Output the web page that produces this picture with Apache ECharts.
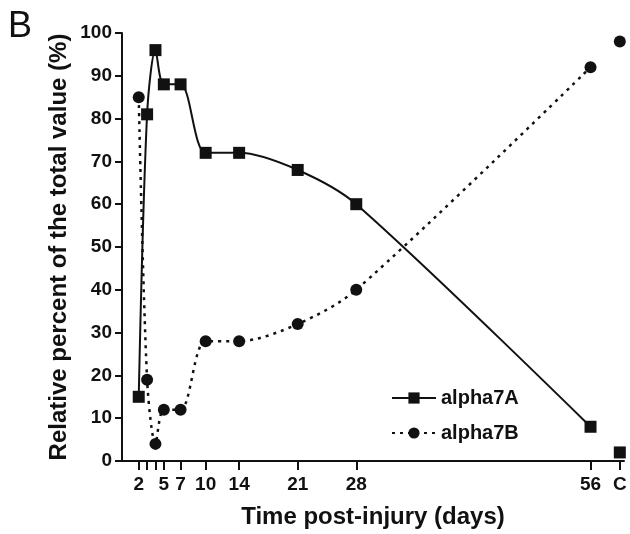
<!DOCTYPE html>
<html>
<head>
<meta charset="utf-8">
<script src="https://cdn.jsdelivr.net/npm/echarts@6/dist/echarts.min.js"></script>
<style>
html,body{margin:0;padding:0;background:#fff;}
#chart{width:630px;height:534px;}
</style>
</head>
<body>
<div id="chart"></div>
<script>
// Data
var days = [2, 3, 4, 5, 7, 10, 14, 21, 28, 56];
var alpha7A = [15, 81, 96, 88, 88, 72, 72, 68, 60, 8];
var alpha7B = [85, 19, 4, 12, 12, 28, 28, 32, 40, 92];
var controlX = 59.5;
var alpha7A_C = 2;
var alpha7B_C = 98;
var xTickValues = [2, 3, 4, 5, 7, 10, 14, 21, 28, 56, 59.5];
var xLabelValues = [2, 5, 7, 10, 14, 21, 28, 56, 59.5];
var yTicks = [0, 10, 20, 30, 40, 50, 60, 70, 80, 90, 100];

var FONT = '"Liberation Sans", Arial, sans-serif';
function pairs(xs, ys){ return xs.map(function(x,i){ return [x, ys[i]]; }); }

var chart = echarts.init(document.getElementById('chart'), null, {renderer:'canvas'});
chart.setOption({
  animation: false,
  backgroundColor: '#fff',
  grid: {left: 122, right: 6, top: 33, bottom: 72, containLabel: false},
  graphic: [{
    type: 'text', left: 8, top: 9,
    style: {text: 'B', fontSize: 36, fontFamily: FONT, fill: '#111'}
  }],
  legend: {
    data: ['alpha7A', 'alpha7B'],
    orient: 'vertical',
    left: 386, top: 383,
    itemWidth: 44, itemHeight: 14, itemGap: 15,
    textStyle: {fontSize: 20, fontWeight: 'bold', fontFamily: FONT, color: '#111'}
  },
  xAxis: {
    type: 'value', min: 0, max: 60,
    name: 'Time post-injury (days)', nameLocation: 'middle', nameGap: 44,
    nameMoveOverlap: false,
    nameTextStyle: {fontSize: 24, fontWeight: 'bold', fontFamily: FONT, color: '#111', verticalAlign: 'top'},
    axisLine: {show: true, lineStyle: {color: '#111', width: 2}},
    axisTick: {show: true, length: 9, lineStyle: {color: '#111', width: 2}, customValues: xTickValues},
    axisLabel: {margin: 14, fontSize: 19, fontWeight: 'bold', fontFamily: FONT, color: '#111',
      customValues: xLabelValues,
      formatter: function(v){ return v === controlX ? 'C' : String(v); }},
    splitLine: {show: false}
  },
  yAxis: {
    type: 'value', min: 0, max: 100, interval: 10,
    name: 'Relative percent of the total value (%)', nameLocation: 'middle', nameGap: 51,
    nameMoveOverlap: false,
    nameTextStyle: {fontSize: 24, fontWeight: 'bold', fontFamily: FONT, color: '#111'},
    axisLine: {show: true, lineStyle: {color: '#111', width: 2}},
    axisTick: {show: true, length: 7, lineStyle: {color: '#111', width: 2}},
    axisLabel: {margin: 10, fontSize: 19, fontWeight: 'bold', fontFamily: FONT, color: '#111',
      customValues: yTicks},
    splitLine: {show: false}
  },
  series: [
    {
      name: 'alpha7A', type: 'line', data: pairs(days, alpha7A),
      smooth: 0.3, symbol: 'rect', symbolSize: 12,
      itemStyle: {color: '#111'},
      lineStyle: {color: '#111', width: 2}
    },
    {
      name: 'alpha7B', type: 'line', data: pairs(days, alpha7B),
      smooth: 0.3, symbol: 'circle', symbolSize: 12,
      itemStyle: {color: '#111'},
      lineStyle: {color: '#111', width: 2.5, type: [3, 5]}
    },
    {
      name: 'alpha7A control', type: 'scatter', data: [[controlX, alpha7A_C]],
      symbol: 'rect', symbolSize: 12, itemStyle: {color: '#111', opacity: 1}
    },
    {
      name: 'alpha7B control', type: 'scatter', data: [[controlX, alpha7B_C]],
      symbol: 'circle', symbolSize: 12, itemStyle: {color: '#111', opacity: 1}
    }
  ]
});
</script>
</body>
</html>
